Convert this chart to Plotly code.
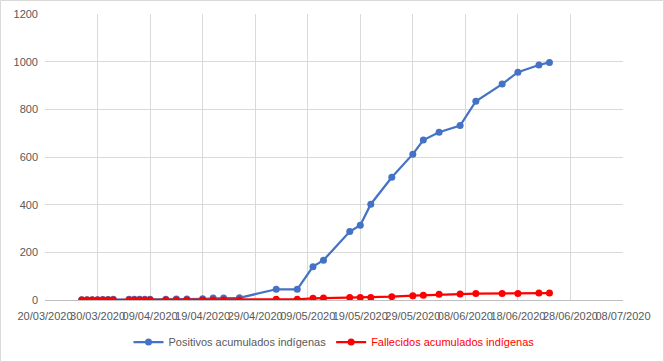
import plotly.graph_objects as go

dates = ["2020-03-27", "2020-03-28", "2020-03-29", "2020-03-30", "2020-03-31", "2020-04-01", "2020-04-02",
         "2020-04-05", "2020-04-06", "2020-04-07", "2020-04-08", "2020-04-09",
         "2020-04-12", "2020-04-14", "2020-04-16", "2020-04-19", "2020-04-21", "2020-04-23", "2020-04-26",
         "2020-05-03", "2020-05-07", "2020-05-10", "2020-05-12", "2020-05-17", "2020-05-19", "2020-05-21",
         "2020-05-25", "2020-05-29", "2020-05-31", "2020-06-03", "2020-06-07", "2020-06-10", "2020-06-15",
         "2020-06-18", "2020-06-22", "2020-06-24"]
positivos = [1, 1, 1, 1, 2, 2, 3,
             3, 3, 3, 3, 3,
             3, 4, 4, 5, 8, 8, 9,
             45, 45, 140, 167, 287, 314, 402,
             515, 612, 671, 704, 732, 834, 906,
             956, 986, 997]
fallecidos = [0, 0, 0, 0, 0, 0, 0,
              0, 0, 0, 0, 0,
              0, 0, 0, 0, 0, 0, 0,
              3, 3, 7, 8, 10, 10, 10,
              14, 18, 20, 24, 25, 27, 27,
              27, 29, 29]
y_ticks = [0, 200, 400, 600, 800, 1000, 1200]

BLUE = "#4472C4"
RED = "#FF0000"
GRAY = "#595959"

fig = go.Figure()
fig.add_trace(go.Scatter(x=dates, y=positivos, mode="lines+markers",
                         name="Positivos acumulados indígenas",
                         line=dict(color=BLUE, width=2.25),
                         marker=dict(color=BLUE, size=7)))
fig.add_trace(go.Scatter(x=dates, y=fallecidos, mode="lines+markers",
                         name='<span style="color:#FF0000">Fallecidos acumulados indígenas</span>',
                         line=dict(color=RED, width=2.25),
                         marker=dict(color=RED, size=7)))

L, R, T, B = 45, 41, 14, 62
W, H = 664, 362
pw, ph = W - L - R, H - T - B

fig.update_layout(
    width=W, height=H,
    margin=dict(l=L, r=R, t=T, b=B, pad=0, autoexpand=False),
    paper_bgcolor="white", plot_bgcolor="white",
    font=dict(family="Liberation Sans, Arial, sans-serif", size=11, color=GRAY),
    showlegend=True,
    legend=dict(orientation="h", x=0.5, xanchor="center", y=-42 / ph, yanchor="middle",
                font=dict(size=11, color=GRAY), itemwidth=30, tracegroupgap=0),
    xaxis=dict(type="date", range=["2020-03-20", "2020-07-08"], tick0="2020-03-20",
               dtick=10 * 86400000, tickformat="%d/%m/%Y", tickangle=0,
               showgrid=True, gridcolor="#D9D9D9", gridwidth=1,
               showline=True, linecolor="#BFBFBF", linewidth=1,
               ticks="", zeroline=False, tickfont=dict(size=11, color=GRAY),
               ticklabelstandoff=6, automargin=False, fixedrange=True),
    yaxis=dict(range=[0, 1200], tickvals=y_ticks, showgrid=True, gridcolor="#D9D9D9",
               gridwidth=1, zeroline=False, showline=False, ticks="",
               tickfont=dict(size=11, color=GRAY), ticklabelstandoff=6,
               automargin=False, fixedrange=True),
)

# chart area border
fig.add_shape(type="rect", xref="paper", yref="paper",
              x0=(0.5 - L) / pw, x1=(W - 0.5 - L) / pw,
              y0=-(B - 0.5) / ph, y1=(ph + T - 0.5) / ph,
              line=dict(color="#D9D9D9", width=1), fillcolor="rgba(0,0,0,0)", layer="below")

fig.write_html("out.html", config={"displayModeBar": False},
               post_script="document.body.style.margin='0';document.body.style.overflow='hidden';")
